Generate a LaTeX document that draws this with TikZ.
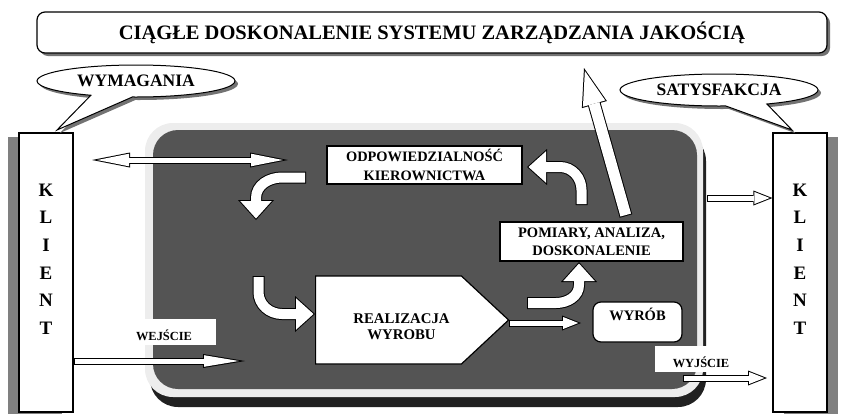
\documentclass[tikz,border=0pt]{standalone}
\usepackage{fontspec}
\setmainfont{Liberation Serif}
\usetikzlibrary{arrows.meta,shapes.callouts,shapes.symbols,shadows}
\begin{document}
\begin{tikzpicture}[x=1pt,y=1pt]
	\tikzset{every node/.style={font=\bfseries}}
	\tikzset{box/.style={draw, line width=1.2pt, fill=white, inner sep=0pt, align=center, font=\bfseries\fontsize{14.5}{18}\selectfont}}
	\tikzset{klient/.style={draw, line width=1.2pt, fill=white, minimum width=54pt, minimum height=279pt}}
	\tikzset{letters/.style={align=center, font=\bfseries\fontsize{19}{27.6}\selectfont, yshift=13.5pt}}
	\tikzset{bubble/.style={ellipse callout, draw, line width=1pt, fill=white, minimum width=198pt, minimum height=32pt, inner sep=0pt, callout pointer arc=25, font=\bfseries\fontsize{17.5}{20}\selectfont, drop shadow={shadow xshift=3pt, shadow yshift=-3pt, fill=black!55, opacity=1}}}
	\tikzset{tag/.style={fill=white, inner sep=0pt, minimum height=26pt, text height=17.5pt, text depth=0pt, font=\bfseries\fontsize{12.4}{14}\selectfont}}
	\tikzset{block/.style n args={6}{draw=white, line width=#1, shorten <=1pt, shorten >=#6, -{Triangle[line width=0pt, width=#4, length=#5]}, preaction={draw=black, line width=#1+2pt, shorten <=0pt, shorten >=0pt, -{Triangle[line width=0pt, width=#2, length=#3]}}}}
	\tikzset{slim/.style={block={5pt}{15pt}{19pt}{12.1pt}{15.3pt}{2.7pt}}}
	\tikzset{slimlong/.style={block={5pt}{14pt}{42pt}{11.6pt}{34.9pt}{6.1pt}}}
	\tikzset{fat/.style={block={10pt}{36pt}{20pt}{31.5pt}{17.5pt}{1.5pt}}}
	\tikzset{big/.style={block={11pt}{26pt}{38pt}{23.2pt}{33.9pt}{3.1pt}}}
	\tikzset{twoway/.style={draw=white, line width=5pt, shorten <=5.2pt, shorten >=5.2pt, {Triangle[line width=0pt, width=12.6pt, length=31.8pt]}-{Triangle[line width=0pt, width=12.6pt, length=31.8pt]}, preaction={draw=black, line width=7pt, shorten <=0pt, shorten >=0pt, {Triangle[line width=0pt, width=15pt, length=38pt]}-{Triangle[line width=0pt, width=15pt, length=38pt]}}}}

	\useasboundingbox (0,0) rectangle (843,-413);

	% system frame
	\fill[black!87, rounded corners=28pt] (150,-133) rectangle (706,-407);
	\fill[black!7, rounded corners=28pt] (145,-123) rectangle (703,-397);
	\fill[black!67, rounded corners=25pt] (153,-130) rectangle (697,-389);

	\node[draw, line width=1.2pt, fill=white, rounded corners=8pt, minimum width=790pt, minimum height=41pt, font=\bfseries\fontsize{20.5}{24}\selectfont, drop shadow={shadow xshift=3pt, shadow yshift=-3pt, fill=black!55, opacity=1}] (title) at (432,-32.5) {CIĄGŁE DOSKONALENIE SYSTEMU ZARZĄDZANIA JAKOŚCIĄ};

	\node[klient, drop shadow={shadow xshift=-11pt, shadow yshift=-4pt, fill=black!50, opacity=1}, label={[letters]center:K\\L\\I\\E\\N\\T}] (klientL) at (46,-272.5) {};
	\node[klient, drop shadow={shadow xshift=11pt, shadow yshift=-4pt, fill=black!50, opacity=1}, label={[letters]center:K\\L\\I\\E\\N\\T}] (klientR) at (800,-272.5) {};

	\coordinate (wymTip) at (57,-130);
	\coordinate (satTip) at (792,-130);
	\node[bubble, callout absolute pointer=(wymTip)] (wym) at (136,-81) {WYMAGANIA};
	\node[bubble, callout absolute pointer=(satTip)] (sat) at (719,-90) {SATYSFAKCJA};

	\node[box, minimum width=195pt, minimum height=38pt, font=\bfseries\fontsize{14.4}{19}\selectfont] (odp) at (424.5,-165) {ODPOWIEDZIALNOŚĆ\\KIEROWNICTWA};
	\node[box, minimum width=183pt, minimum height=39pt] (pom) at (591.5,-241.5) {POMIARY, ANALIZA,\\DOSKONALENIE};
	\node[box, signal, signal to=east, signal pointer angle=86, minimum width=193pt, minimum height=88pt, anchor=west, label={[align=center, font=\bfseries\fontsize{14.8}{16.5}\selectfont, anchor=center, xshift=86.5pt, yshift=-6.5pt]west:REALIZACJA\\WYROBU}] (real) at (315,-320) {};
	\node[box, rounded corners=8pt, minimum width=89pt, minimum height=40pt, text height=12pt, text depth=15pt] (wyrob) at (637.5,-322) {WYRÓB};
	\node[tag, minimum width=104pt] (wej) at (164,-332) {WEJŚCIE};
	\node[tag, minimum width=92pt] (wyj) at (701,-359) {WYJŚCIE};

	% connectors
	\coordinate (dL) at (92,-160);
	\coordinate (dR) at (288,-160);
	\coordinate (fromOdp) at (306,-177.5);
	\coordinate (toReal) at (315,-314);
	\coordinate (fromReal) at (527,-303);
	\coordinate (toPom) at (579,-262);
	\coordinate (fromPom) at (581.5,-205);
	\coordinate (toOdp) at (527,-167);
	\coordinate (toTitle) at (584,-68);
	\coordinate (upStart) at (626,-216);
	\coordinate (wejEnd) at (245,-361);
	\coordinate (toWyrob) at (581,-323);
	\coordinate (outR) at (707,-198);
	\coordinate (wyjStart) at (683,-378);
	\coordinate (wyjEnd) at (767,-378);

	\draw[twoway] (dL) -- (dR);
	\draw[fat] (fromOdp) -- (282,-177.5) to[out=180, in=90] (256,-198) -- (256,-220);
	\draw[fat] (258.5,-276) -- (258.5,-292) to[out=-90, in=180] (282,-314) -- (toReal);
	\draw[fat] (fromReal) -- (556,-303) to[out=0, in=-90] (579,-285) -- (toPom);
	\draw[fat] (fromPom) -- (581.5,-190) to[out=90, in=0] (560,-167) -- (toOdp);
	\draw[big] (upStart) -- (toTitle);
	\draw[slimlong] (klientL.east |- wejEnd) -- (wejEnd);
	\draw[slim] (real.east |- toWyrob) -- (toWyrob);
	\draw[slim] (outR) -- (outR -| klientR.west);
	\draw[slim] (wyjStart) -- (wyjEnd);
\end{tikzpicture}
\end{document}
